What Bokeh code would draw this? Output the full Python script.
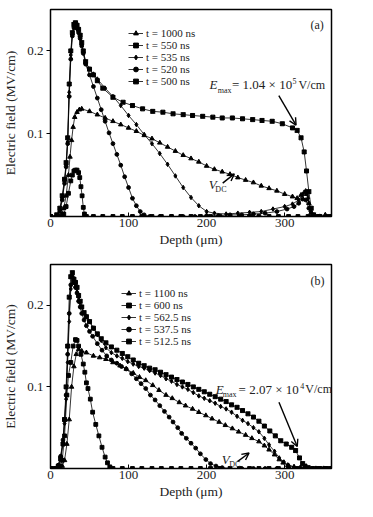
from bokeh.plotting import figure
from bokeh.models import Range1d, Legend, LegendItem, Label, Arrow, OpenHead, FixedTicker
from bokeh.layouts import column
from bokeh.embed import file_html
from bokeh.resources import INLINE

FONT = "'Liberation Serif', 'Times New Roman', serif"

X_TICKS = [0, 100, 200, 300]
Y_TICKS = [0.1, 0.2]
X_LABEL = "Depth (μm)"
Y_LABEL = "Electric field (MV/cm)"

# ---------------- Panel (a) ----------------
A_LABELS = ["t = 1000 ns", "t = 550 ns", "t = 535 ns", "t = 520 ns", "t = 500 ns"]

a1000_x = [0, 10, 14, 17, 20, 23, 25, 27, 29, 31, 34, 37, 40, 50, 60, 70, 80, 90, 100, 110,
           120, 130, 140, 150, 160, 170, 180, 190, 200, 210, 220, 230, 240, 250, 260, 270, 280,
           290, 300, 310, 316, 321, 325, 328, 331, 334, 338, 345, 352, 360]
a1000_y = [0, 0, 0.002, 0.01, 0.025, 0.05, 0.072, 0.092, 0.108, 0.12, 0.126, 0.129, 0.13,
           0.127, 0.123, 0.119, 0.115, 0.111, 0.107, 0.103, 0.098, 0.094, 0.089, 0.084, 0.079,
           0.074, 0.07, 0.066, 0.061, 0.057, 0.054, 0.051, 0.047, 0.044, 0.041, 0.037, 0.034,
           0.031, 0.027, 0.024, 0.022, 0.026, 0.029, 0.027, 0.016, 0.005, 0.001, 0, 0.002, 0]

a550_x = [0, 8, 12, 15, 18, 20, 22, 24, 26, 28, 30, 32, 34, 36, 38, 40, 42, 45, 50, 55,
          60, 67, 80, 93, 105, 118, 131, 144, 157, 170, 182, 195, 208, 220, 233, 246, 259, 271,
          284, 297, 310, 316, 321, 325, 328, 331, 334, 337, 345, 360]
a550_y = [0, 0.002, 0.01, 0.025, 0.045, 0.065, 0.095, 0.16, 0.2, 0.222, 0.232, 0.234, 0.231,
          0.226, 0.219, 0.21, 0.2, 0.187, 0.178, 0.171, 0.164, 0.155, 0.144, 0.138, 0.134,
          0.13, 0.127, 0.126, 0.124, 0.123, 0.122, 0.121, 0.12, 0.119, 0.119, 0.118, 0.117,
          0.116, 0.115, 0.112, 0.107, 0.104, 0.095, 0.078, 0.055, 0.03, 0.01, 0.002, 0, 0]

a535_x = [0, 8, 12, 15, 18, 20, 22, 24, 26, 28, 30, 32, 34, 36, 38, 40, 42, 45, 50, 55, 60,
          70, 80, 90, 100, 110, 120, 130, 140, 150, 160, 170, 180, 190, 200, 210, 225, 240, 255,
          270, 285, 300, 310, 318, 323, 327, 330, 333, 337, 345, 360]
a535_y = [0, 0.001, 0.008, 0.022, 0.042, 0.062, 0.09, 0.15, 0.195, 0.22, 0.23, 0.232, 0.229,
          0.224, 0.217, 0.208, 0.199, 0.186, 0.178, 0.172, 0.166, 0.155, 0.145, 0.134, 0.122,
          0.111, 0.099, 0.088, 0.076, 0.063, 0.049, 0.035, 0.023, 0.013, 0.006, 0.004, 0.003,
          0.004, 0.005, 0.006, 0.009, 0.012, 0.015, 0.02, 0.026, 0.031, 0.022, 0.006, 0.001, 0, 0]

a520_x = [0, 8, 12, 15, 18, 20, 22, 24, 26, 28, 30, 32, 34, 36, 38, 40, 42, 45, 50, 55, 60,
          65, 70, 75, 80, 85, 90, 95, 100, 105, 110, 115, 120, 127, 140, 155, 170, 185, 200,
          215, 230, 245, 260, 275, 290, 303, 312, 318, 323, 327, 331, 335, 345, 360]
a520_y = [0, 0.001, 0.006, 0.02, 0.04, 0.06, 0.088, 0.145, 0.19, 0.218, 0.228, 0.23, 0.227,
          0.222, 0.215, 0.206, 0.197, 0.184, 0.171, 0.157, 0.143, 0.129, 0.115, 0.101, 0.088,
          0.075, 0.062, 0.048, 0.035, 0.022, 0.013, 0.006, 0.002, 0, 0, 0, 0, 0, 0.001, 0.001,
          0.002, 0.002, 0.003, 0.004, 0.006, 0.009, 0.012, 0.016, 0.021, 0.02, 0.01, 0.002, 0, 0]

a500_x = [0, 10, 17, 20, 23, 26, 28, 30, 32, 34, 36, 37.5, 39, 40.5, 42, 43.5, 46, 55, 67, 80,
          92, 105, 117, 130, 142, 155, 167, 180, 192, 205, 217, 230, 242, 255, 267, 280, 292,
          305, 317, 330, 342, 355]
a500_y = [0, 0, 0.003, 0.012, 0.028, 0.043, 0.05, 0.055, 0.056, 0.056, 0.053, 0.047, 0.036,
          0.025, 0.011, 0.003, 0, 0, 0, 0, 0, 0, 0, 0, 0, 0, 0, 0, 0, 0, 0, 0, 0, 0, 0, 0, 0,
          0, 0, 0, 0, 0]

# ---------------- Panel (b) ----------------
B_LABELS = ["t = 1100 ns", "t = 600 ns", "t = 562.5 ns", "t = 537.5 ns", "t = 512.5 ns"]

b1100_x = [0, 10, 15, 18, 21, 24, 27, 30, 33, 36, 40, 46, 55, 63, 71, 80, 89, 97, 106, 114,
           122, 131, 139, 148, 156, 165, 173, 182, 190, 199, 207, 216, 224, 233, 241, 250, 258,
           267, 274, 280, 287, 293, 298, 304, 312, 320, 330, 340, 350, 360]
b1100_y = [0, 0, 0.003, 0.01, 0.03, 0.06, 0.1, 0.125, 0.14, 0.146, 0.144, 0.142, 0.138,
           0.136, 0.134, 0.13, 0.126, 0.122, 0.117, 0.112, 0.108, 0.102, 0.096, 0.09, 0.086,
           0.081, 0.077, 0.073, 0.069, 0.065, 0.061, 0.057, 0.053, 0.049, 0.045, 0.041, 0.037,
           0.033, 0.028, 0.023, 0.017, 0.011, 0.007, 0.004, 0.002, 0.001, 0, 0, 0, 0]

b600_x = [0, 6, 10, 13, 16, 18, 20, 22, 24, 26, 28, 30, 32, 34, 36, 38, 40, 43, 46, 50, 55,
          60, 65, 71, 78, 85, 92, 99, 106, 113, 120, 127, 134, 141, 148, 155, 162, 169, 176,
          183, 190, 197, 204, 211, 218, 225, 232, 239, 246, 253, 260, 267, 274, 281, 288, 295,
          302, 309, 314, 319, 323, 326, 330, 336, 345, 352, 360]
b600_y = [0, 0, 0.003, 0.012, 0.03, 0.06, 0.1, 0.15, 0.21, 0.235, 0.24, 0.232, 0.228, 0.222,
          0.212, 0.205, 0.198, 0.191, 0.186, 0.18, 0.172, 0.165, 0.159, 0.154, 0.149, 0.145,
          0.141, 0.137, 0.133, 0.129, 0.126, 0.123, 0.121, 0.118, 0.115, 0.112, 0.109, 0.106,
          0.103, 0.1, 0.097, 0.094, 0.091, 0.088, 0.085, 0.082, 0.078, 0.075, 0.071, 0.067,
          0.063, 0.058, 0.052, 0.046, 0.04, 0.034, 0.03, 0.026, 0.022, 0.013, 0.006, 0.003,
          0.001, 0, 0, 0, 0]

b562_x = [0, 6, 10, 13, 16, 18, 20, 22, 24, 26, 28, 30, 32, 34, 36, 38, 40, 43, 46, 50, 55,
          60, 65, 71, 78, 85, 92, 99, 106, 113, 120, 127, 134, 141, 148, 155, 162, 169, 176,
          183, 190, 197, 204, 211, 218, 225, 232, 239, 246, 253, 260, 267, 274, 280, 287, 293,
          299, 305, 312, 320, 330, 345, 360]
b562_y = [0, 0, 0.004, 0.014, 0.032, 0.055, 0.085, 0.13, 0.18, 0.22, 0.234, 0.228, 0.222,
          0.216, 0.21, 0.204, 0.198, 0.19, 0.186, 0.18, 0.172, 0.164, 0.157, 0.148, 0.142,
          0.138, 0.135, 0.131, 0.128, 0.125, 0.123, 0.12, 0.117, 0.114, 0.11, 0.107, 0.103,
          0.1, 0.097, 0.093, 0.089, 0.086, 0.083, 0.08, 0.076, 0.073, 0.069, 0.064, 0.059,
          0.055, 0.05, 0.045, 0.037, 0.029, 0.021, 0.013, 0.008, 0.004, 0.002, 0.001, 0, 0, 0]

b537_x = [0, 6, 10, 13, 16, 18, 20, 22, 24, 26, 28, 30, 32, 34, 36, 38, 40, 43, 46, 50, 54,
          60, 66, 72, 78, 85, 91, 97, 104, 110, 116, 122, 128, 134, 140, 146, 152, 157, 163,
          168, 174, 180, 186, 192, 199, 205, 212, 220, 230, 245, 260, 275, 290, 305, 320, 335,
          350]
b537_y = [0, 0, 0.004, 0.015, 0.035, 0.06, 0.09, 0.14, 0.19, 0.225, 0.235, 0.228, 0.222,
          0.215, 0.205, 0.198, 0.19, 0.182, 0.175, 0.168, 0.162, 0.153, 0.145, 0.138, 0.133,
          0.129, 0.125, 0.122, 0.116, 0.11, 0.104, 0.098, 0.09, 0.084, 0.077, 0.07, 0.063,
          0.057, 0.05, 0.043, 0.037, 0.031, 0.025, 0.018, 0.011, 0.006, 0.003, 0.001, 0, 0, 0,
          0, 0, 0, 0, 0, 0]

b512_x = [0, 8, 12, 15, 18, 21, 23, 26, 29, 32, 34, 36, 39, 42, 44, 46, 48, 51, 54, 58, 62,
          66, 70, 73, 76, 80, 92, 105, 117, 130, 142, 155, 167, 180, 192, 205, 217, 230, 242,
          255, 267, 280, 292, 305, 317, 330, 342, 355]
b512_y = [0, 0, 0.003, 0.01, 0.04, 0.09, 0.114, 0.13, 0.15, 0.158, 0.157, 0.15, 0.14, 0.128,
          0.118, 0.105, 0.098, 0.085, 0.069, 0.054, 0.04, 0.026, 0.014, 0.007, 0.002, 0, 0, 0,
          0, 0, 0, 0, 0, 0, 0, 0, 0, 0, 0, 0, 0, 0, 0, 0, 0, 0, 0, 0]

MARKERS = ["triangle", "square_x", "diamond", "circle", "square"]
SIZES = [4.5, 4, 4.5, 3.8, 3.8]


def make_fig(height, top, bottom):
    p = figure(width=357, height=height, output_backend="svg", toolbar_location=None,
               x_range=Range1d(0, 360), y_range=Range1d(0, 0.25),
               min_border_left=49, min_border_right=26,
               min_border_top=top, min_border_bottom=bottom)
    p.grid.visible = False
    p.outline_line_color = "black"
    p.outline_line_width = 1.5
    p.background_fill_color = "white"
    p.xaxis.ticker = FixedTicker(ticks=X_TICKS)
    p.yaxis.ticker = FixedTicker(ticks=Y_TICKS)
    for ax in (p.xaxis, p.yaxis):
        ax.minor_tick_line_color = None
        ax.axis_line_color = "black"
        ax.major_tick_line_color = "black"
        ax.major_label_text_font = FONT
        ax.major_label_text_font_size = "13px"
        ax.major_label_text_color = "#222222"
        ax.axis_label_text_font = FONT
        ax.axis_label_text_font_size = "13.5px"
        ax.axis_label_text_font_style = "normal"
        ax.axis_label_text_color = "#222222"
    p.xaxis.major_tick_in = 4
    p.xaxis.major_tick_out = 0
    p.xaxis.major_label_standoff = 2
    p.xaxis.axis_label_standoff = 2
    p.yaxis.major_tick_in = 0
    p.yaxis.major_tick_out = 4
    p.yaxis.major_label_standoff = 3
    p.yaxis.axis_label_standoff = 6
    p.xaxis.axis_label = X_LABEL
    p.yaxis.axis_label = Y_LABEL
    return p


def add_series(p, xs, ys, labels, loc):
    items = []
    for x, y, lab, m, s in zip(xs, ys, labels, MARKERS, SIZES):
        r1 = p.line(x, y, line_color="black", line_width=0.8)
        r2 = p.scatter(x, y, marker=m, size=s, fill_color="black", line_color="black",
                       line_width=1)
        items.append(LegendItem(label=lab, renderers=[r1, r2]))
    leg = Legend(items=items, location=loc, glyph_width=15, glyph_height=12,
                 label_height=12, spacing=0, padding=0, margin=0, label_standoff=3,
                 background_fill_alpha=0, border_line_color=None,
                 label_text_font=FONT, label_text_font_size="11px",
                 label_text_color="#222222")
    p.add_layout(leg)


def lab(p, x, y, text, size="12.5px", style="normal"):
    p.add_layout(Label(x=x, y=y, text=text, text_font=FONT, text_font_size=size,
                       text_font_style=style, text_baseline="middle", text_align="left",
                       text_color="#222222"))


def arrow(p, x0, y0, x1, y1, head=7, w=1.4):
    p.add_layout(Arrow(end=OpenHead(size=head, line_width=w, line_color="black"),
                       x_start=x0, y_start=y0, x_end=x1, y_end=y1,
                       line_width=w, line_color="black"))


# Panel (a)
pa = make_fig(255, 9, 39)
add_series(pa, [a1000_x, a550_x, a535_x, a520_x, a500_x],
           [a1000_y, a550_y, a535_y, a520_y, a500_y], A_LABELS, (78, 129))
lab(pa, 333, 0.2317, "(a)", "12px")
lab(pa, 203.6, 0.159, "E", "13px", "italic")
lab(pa, 214.2, 0.1517, "max", "8px")
lab(pa, 232.5, 0.159, "= 1.04 × 10", "13px")
lab(pa, 310, 0.1636, "5", "8px")
lab(pa, 317.6, 0.159, "V/cm", "12px")
arrow(pa, 292.5, 0.146, 314.6, 0.1104)
lab(pa, 202.7, 0.0385, "V", "13px", "italic")
lab(pa, 211.2, 0.0324, "DC", "8px")
arrow(pa, 220.6, 0.0403, 235.5, 0.0515, head=7, w=1.4)

# Panel (b)
pb = make_fig(246, 9, 30)
add_series(pb, [b1100_x, b600_x, b562_x, b537_x, b512_x],
           [b1100_y, b600_y, b562_y, b537_y, b512_y], B_LABELS, (71, 121))
lab(pb, 333, 0.2298, "(b)", "12px")
lab(pb, 211.7, 0.0972, "E", "13px", "italic")
lab(pb, 220.6, 0.0904, "max", "8px")
lab(pb, 241.0, 0.0972, "= 2.07 × 10", "13px")
lab(pb, 319.9, 0.1012, "4", "8px")
lab(pb, 326.5, 0.0972, "V/cm", "12px")
arrow(pb, 292.7, 0.0811, 316.1, 0.0269)
lab(pb, 219.4, 0.011, "V", "13px", "italic")
lab(pb, 228.9, 0.0045, "DC", "8px")
arrow(pb, 239.5, 0.0085, 254.4, 0.019)

layout = column(pa, pb, spacing=0)
open("out.html", "w").write(file_html(layout, INLINE))
